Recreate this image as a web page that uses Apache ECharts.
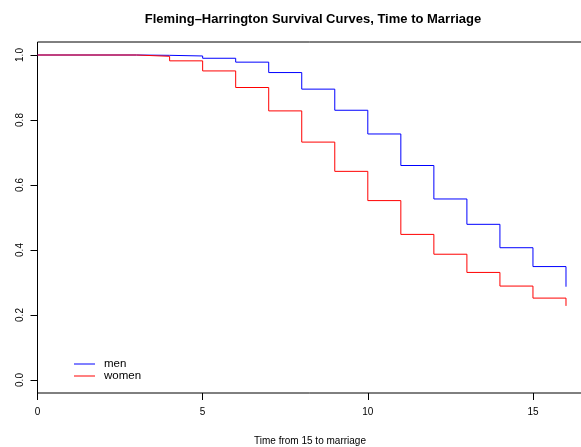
<!DOCTYPE html>
<html>
<head>
<meta charset="utf-8">
<script src="https://cdn.jsdelivr.net/npm/echarts@6/dist/echarts.min.js"></script>
<style>html,body{margin:0;padding:0;background:#fff}#c{width:581px;height:447px}</style>
</head>
<body>
<div id="c"></div>
<script>
const times = [0, 3, 4, 5, 6, 7, 8, 9, 10, 11, 12, 13, 14, 15, 16];
const men   = [1.0, 0.999, 0.997, 0.990, 0.978, 0.946, 0.895, 0.830, 0.757, 0.660, 0.557, 0.479, 0.407, 0.349, 0.287];
const women = [1.0, 0.996, 0.982, 0.951, 0.900, 0.828, 0.732, 0.642, 0.552, 0.448, 0.387, 0.331, 0.289, 0.252, 0.228];
const xTicks = [0, 5, 10, 15];
const yTicks = [0, 0.2, 0.4, 0.6, 0.8, 1.0];
const titleText = 'Fleming\u2013Harrington Survival Curves, Time to Marriage';
const xLabel = 'Time from 15 to marriage';

const font = 'Liberation Sans, Arial, Helvetica, sans-serif';
const chart = echarts.init(document.getElementById('c'), null, {renderer: 'canvas'});
const pairs = arr => times.map((t, i) => [t, arr[i]]);

chart.setOption({
  animation: false,
  backgroundColor: '#fff',
  textStyle: {fontFamily: font},
  title: {
    text: titleText, left: 308, top: 8, textAlign: 'center',
    textStyle: {fontFamily: font, fontWeight: 'bold', fontSize: 13, color: '#000'}
  },
  grid: {left: 37.5, top: 42, width: 545, bottom: 54, outerBoundsMode: 'none', containLabel: false,
         show: true, borderColor: '#000', borderWidth: 1, backgroundColor: 'transparent'},
  legend: {
    orient: 'vertical', left: 74, top: 358, padding: 0, itemGap: 0, itemWidth: 21, itemHeight: 1,
    textStyle: {fontFamily: font, fontSize: 11.5, color: '#000', padding: [0, 0, 0, 4]},
    data: [
      {name: 'men', icon: 'rect', itemStyle: {color: '#0000ff'}},
      {name: 'women', icon: 'rect', itemStyle: {color: '#ff0000'}}
    ]
  },
  xAxis: {
    type: 'value', min: 0, max: 16.5,
    splitLine: {show: false},
    axisLine: {show: false, onZero: false},
    axisTick: {show: true, length: 7, inside: false, customValues: xTicks, lineStyle: {color: '#000'}},
    axisLabel: {customValues: xTicks, margin: 14, fontSize: 10, color: '#000', fontFamily: font, formatter: v => String(v)},
    name: xLabel, nameLocation: 'middle', nameGap: 43,
    nameTextStyle: {fontSize: 10, color: '#000', fontFamily: font}
  },
  yAxis: {
    type: 'value', min: -0.04, max: 1.04,
    splitLine: {show: false},
    axisLine: {show: false, onZero: false},
    axisTick: {show: true, length: 7, customValues: yTicks, lineStyle: {color: '#000'}},
    axisLabel: {customValues: yTicks, rotate: 90, margin: 12, fontSize: 10, color: '#000', fontFamily: font, formatter: v => v.toFixed(1)}
  },
  series: [
    {name: 'men', type: 'line', step: 'end', data: pairs(men), showSymbol: false, symbol: 'none',
     lineStyle: {color: '#0000ff', width: 1}, itemStyle: {color: '#0000ff'}},
    {name: 'women', type: 'line', step: 'end', data: pairs(women), showSymbol: false, symbol: 'none',
     lineStyle: {color: '#ff0000', width: 1}, itemStyle: {color: '#ff0000'}}
  ]
});
</script>
</body>
</html>
